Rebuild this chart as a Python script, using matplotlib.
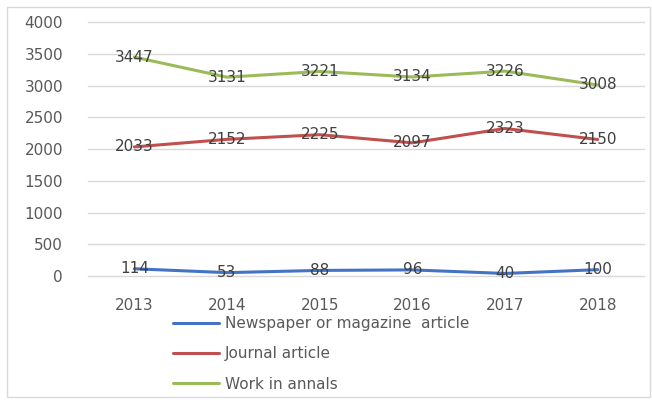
import matplotlib.pyplot as plt
from matplotlib.patches import Rectangle

years = ['2013', '2014', '2015', '2016', '2017', '2018']
newspaper = [114, 53, 88, 96, 40, 100]
journal = [2033, 2152, 2225, 2097, 2323, 2150]
annals = [3447, 3131, 3221, 3134, 3226, 3008]

series = [
    ('Newspaper or magazine  article', newspaper, '#4472C4'),
    ('Journal article', journal, '#C0504D'),
    ('Work in annals', annals, '#9BBB59'),
]

fig = plt.figure(figsize=(6.52, 4.12), dpi=100)
fig.patches.append(Rectangle((7 / 652, 1 - 397 / 412), 643 / 652, 390 / 412,
                             transform=fig.transFigure, fill=False,
                             edgecolor='#D9D9D9', linewidth=1))
ax = fig.add_axes([88 / 652, 1 - 276 / 412, 556 / 652, 254 / 412])

x = list(range(len(years)))
for name, vals, color in series:
    ax.plot(x, vals, color=color, linewidth=2.2, label=name, solid_capstyle='round')
    for xi, v in zip(x, vals):
        ax.text(xi, v, str(v), ha='center', va='center', fontsize=11, color='#404040')

ax.set_xlim(-0.5, 5.5)
ax.set_ylim(0, 4000)
ax.set_yticks(range(0, 4001, 500))
ax.set_xticks(x)
ax.set_xticklabels(years)
ax.tick_params(axis='both', length=0, labelsize=11, labelcolor='#595959')
ax.tick_params(axis='y', pad=18)
ax.tick_params(axis='x', pad=16)
ax.grid(axis='y', color='#D9D9D9', linewidth=1)
for gl in ax.get_ygridlines():
    gl.set_clip_on(False)
ax.set_axisbelow(True)
for s in ax.spines.values():
    s.set_visible(False)

fig.legend(loc='upper left', bbox_to_anchor=(173 / 652, 1 - 316 / 412),
           frameon=False, fontsize=11, handlelength=3.0, handletextpad=0.4,
           labelspacing=1.0, borderpad=0, borderaxespad=0, labelcolor='#595959')

fig.savefig('out.png', dpi=100)
